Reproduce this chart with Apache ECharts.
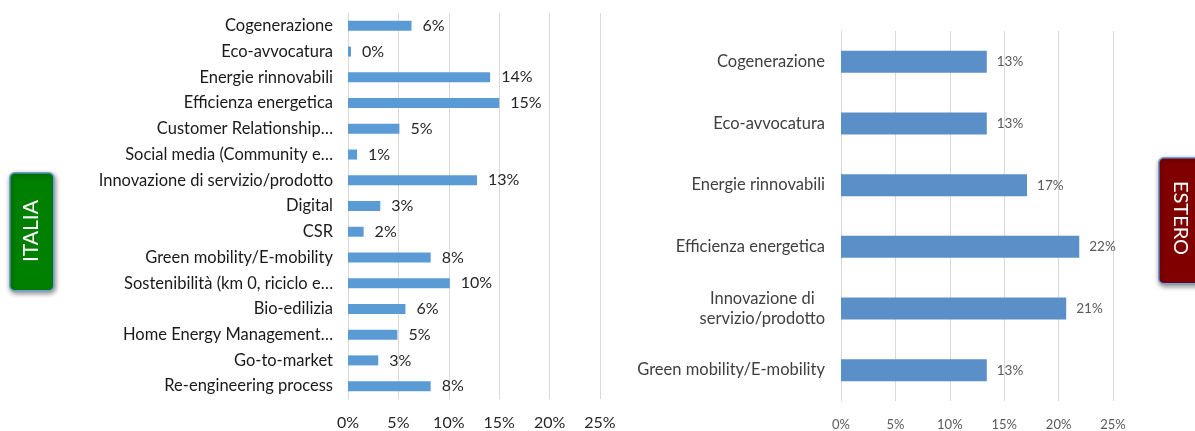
<!DOCTYPE html>
<html>
<head>
<meta charset="utf-8">
<title>Tematiche di innovazione – Italia / Estero</title>
<script src="https://cdn.jsdelivr.net/npm/echarts@6/dist/echarts.min.js"></script>
<style>
  html, body { margin: 0; padding: 0; background: #ffffff; }
  #chart { width: 1195px; height: 431px; }
</style>
</head>
<body>
<div id="chart"></div>
<script>
// Italia: categories (top to bottom) and shares in percent
const italiaCategories = [
  'Cogenerazione',
  'Eco-avvocatura',
  'Energie rinnovabili',
  'Efficienza energetica',
  'Customer Relationship…',
  'Social media (Community e…',
  'Innovazione di servizio/prodotto',
  'Digital',
  'CSR',
  'Green mobility/E-mobility',
  'Sostenibilità (km 0, riciclo e…',
  'Bio-edilizia',
  'Home Energy Management…',
  'Go-to-market',
  'Re-engineering process'
];
const italiaValues = [6.3, 0.3, 14.1, 15.0, 5.1, 0.9, 12.8, 3.2, 1.55, 8.2, 10.1, 5.7, 4.9, 3.0, 8.2];

// Estero: categories (top to bottom) and shares in percent
const esteroCategories = [
  'Cogenerazione',
  'Eco-avvocatura',
  'Energie rinnovabili',
  'Efficienza energetica',
  'Innovazione di\nservizio/prodotto',
  'Green mobility/E-mobility'
];
const esteroValues = [13.4, 13.4, 17.1, 21.9, 20.7, 13.4];

// shared value-axis ticks (percent)
const axisMax = 25;
const axisStep = 5;

const FONT = 'Lato, "Open Sans", sans-serif';
const pct = v => Math.round(v) + '%';

const chart = echarts.init(document.getElementById('chart'), null, { renderer: 'canvas' });

chart.setOption({
  animation: false,
  backgroundColor: '#ffffff',
  textStyle: { fontFamily: FONT },
  grid: [
    { left: 348, right: 595, top: 13, bottom: 30, containLabel: false },
    { left: 841, right: 82, top: 31, bottom: 24, containLabel: false }
  ],
  xAxis: [
    {
      gridIndex: 0, type: 'value', min: 0, max: axisMax, interval: axisStep,
      axisLine: { show: false }, axisTick: { show: false },
      splitLine: { show: true, lineStyle: { color: '#d9d9d9', width: 1 } },
      axisLabel: { formatter: v => v + '%', color: '#262626', fontSize: 16, margin: 16, fontFamily: FONT }
    },
    {
      gridIndex: 1, type: 'value', min: 0, max: axisMax, interval: axisStep,
      axisLine: { show: false }, axisTick: { show: false },
      splitLine: { show: true, lineStyle: { color: '#d9d9d9', width: 1 } },
      axisLabel: { formatter: v => v + '%', color: '#595959', fontSize: 13, margin: 17, fontFamily: FONT }
    }
  ],
  yAxis: [
    {
      gridIndex: 0, type: 'category', inverse: true, data: italiaCategories,
      axisLine: { show: true, lineStyle: { color: '#d9d9d9' } },
      axisTick: { show: false },
      axisLabel: { color: '#1a1a1a', fontSize: 16.5, margin: 15, fontFamily: FONT }
    },
    {
      gridIndex: 1, type: 'category', inverse: true, data: esteroCategories,
      axisLine: { show: true, lineStyle: { color: '#d9d9d9' } },
      axisTick: { show: false },
      axisLabel: {
        color: '#404040', fontSize: 16.5, margin: 16, fontFamily: FONT, lineHeight: 20,
        formatter: v => v.indexOf('\n') >= 0 ? '{c|' + v + '}' : v,
        rich: { c: { align: 'center', fontSize: 16.5, lineHeight: 20, color: '#404040', fontFamily: FONT } }
      }
    }
  ],
  series: [
    {
      name: 'Italia', type: 'bar', xAxisIndex: 0, yAxisIndex: 0,
      data: italiaValues, barWidth: 10,
      itemStyle: { color: '#5b9bd5' },
      label: {
        show: true, position: 'right', distance: 11,
        formatter: p => pct(p.value), color: '#262626', fontSize: 16, fontFamily: FONT
      }
    },
    {
      name: 'Estero', type: 'bar', xAxisIndex: 1, yAxisIndex: 1,
      data: esteroValues, barWidth: 22,
      itemStyle: { color: '#5a8fc8' },
      label: {
        show: true, position: 'right', distance: 10,
        formatter: p => pct(p.value), color: '#595959', fontSize: 13.5, fontFamily: FONT
      }
    }
  ],
  graphic: [
    {
      type: 'rect', left: 9, top: 172,
      shape: { width: 44, height: 118, r: 5 },
      style: {
        fill: '#008000', stroke: '#6f9fd8', lineWidth: 1.5,
        shadowBlur: 5, shadowOffsetX: 1, shadowOffsetY: 2, shadowColor: 'rgba(0,0,0,0.45)'
      }
    },
    {
      type: 'text', x: 31, y: 231, rotation: Math.PI / 2,
      style: {
        text: 'ITALIA', fill: '#ffffff', fontSize: 21, fontFamily: FONT,
        align: 'center', verticalAlign: 'middle'
      }
    },
    {
      type: 'rect', left: 1158, top: 157,
      shape: { width: 46, height: 126, r: 5 },
      style: {
        fill: '#800000', stroke: '#6f9fd8', lineWidth: 1.5,
        shadowBlur: 5, shadowOffsetX: 1, shadowOffsetY: 2, shadowColor: 'rgba(0,0,0,0.45)'
      }
    },
    {
      type: 'text', x: 1180, y: 218, rotation: -Math.PI / 2,
      style: {
        text: 'ESTERO', fill: '#ffffff', fontSize: 20, fontFamily: FONT,
        align: 'center', verticalAlign: 'middle'
      }
    }
  ]
});
</script>
</body>
</html>
